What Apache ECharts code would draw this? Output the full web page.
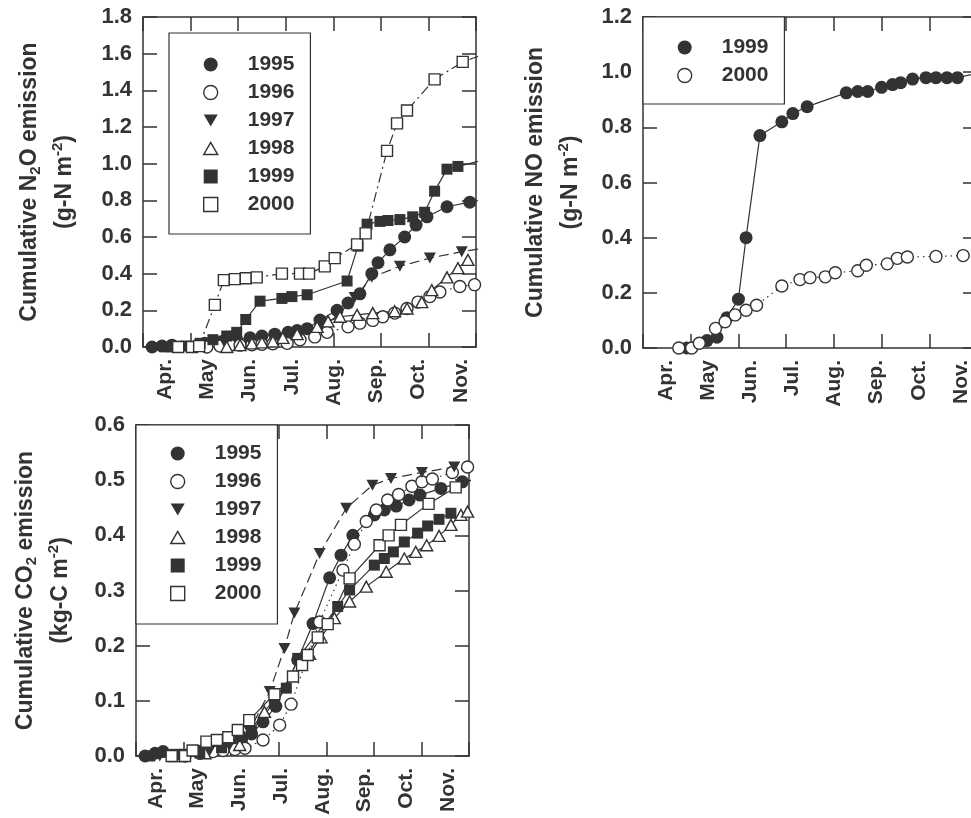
<!DOCTYPE html>
<html><head><meta charset="utf-8">
<script src="https://cdn.jsdelivr.net/npm/echarts@6/dist/echarts.min.js"></script>
<style>html,body{margin:0;padding:0;background:#fff}#c{width:971px;height:818px}</style>
</head><body><div id="c"></div>
<script>
// ---- data (x in axis-tick units: 0 = left frame, 7 = right frame) ----
const months = ['Apr.','May','Jun.','Jul.','Aug.','Sep.','Oct.','Nov.'];
const n2oYears = ['1995','1996','1997','1998','1999','2000'];
const noYears = ['1999','2000'];
const co2Years = ['1995','1996','1997','1998','1999','2000'];

const n2o1995 = [[0.19,0.0],[0.40,0.005],[0.61,0.01],[1.30,0.02],[1.66,0.03],[1.97,0.04],[2.25,0.05],[2.50,0.06],[2.77,0.07],[3.05,0.08],[3.24,0.09],[3.45,0.10],[3.72,0.147],[4.08,0.20],[4.31,0.24],[4.56,0.29],[4.81,0.40],[4.94,0.46],[5.19,0.53],[5.50,0.60],[5.74,0.665],[5.97,0.71],[6.39,0.765],[6.87,0.79],[7.3,0.81]];
const n2o1996 = [[1.34,0.0],[1.62,0.005],[1.83,0.01],[2.04,0.01],[2.29,0.012],[2.50,0.015],[2.73,0.018],[3.03,0.02],[3.30,0.04],[3.61,0.055],[3.87,0.08],[4.31,0.11],[4.56,0.13],[4.83,0.145],[5.04,0.165],[5.29,0.185],[5.55,0.21],[5.78,0.245],[6.03,0.275],[6.24,0.30],[6.66,0.33],[6.97,0.34]];
const n2o1997 = [[0.78,0.0],[1.20,0.01],[1.72,0.02],[2.25,0.035],[2.77,0.05],[3.30,0.07],[3.72,0.10],[4.08,0.17],[4.45,0.27],[4.81,0.38],[5.40,0.44],[6.03,0.485],[6.70,0.52],[7.3,0.545]];
const n2o1998 = [[1.76,0.0],[2.04,0.01],[2.29,0.02],[2.50,0.025],[2.73,0.03],[2.94,0.05],[3.24,0.07],[3.66,0.11],[3.89,0.14],[4.14,0.165],[4.50,0.175],[4.83,0.185],[5.29,0.195],[5.55,0.21],[5.86,0.245],[6.07,0.31],[6.39,0.38],[6.62,0.43],[6.83,0.475]];
const n2o1999 = [[0.57,0.0],[0.88,0.005],[1.20,0.02],[1.47,0.04],[1.76,0.06],[1.97,0.08],[2.16,0.15],[2.46,0.25],[2.92,0.265],[3.13,0.275],[3.45,0.285],[4.29,0.36],[4.52,0.55],[4.71,0.67],[4.98,0.685],[5.15,0.69],[5.40,0.695],[5.67,0.71],[5.92,0.735],[6.13,0.85],[6.39,0.97],[6.62,0.985],[7.3,1.03]];
const n2o2000 = [[0.74,0.0],[1.03,0.0],[1.18,0.005],[1.51,0.23],[1.70,0.365],[1.93,0.37],[2.16,0.375],[2.39,0.38],[2.92,0.40],[3.30,0.40],[3.49,0.40],[3.82,0.44],[4.03,0.485],[4.50,0.56],[4.68,0.62],[5.13,1.07],[5.34,1.22],[5.55,1.29],[6.13,1.46],[6.72,1.555],[7.3,1.61]];

const no1999 = [[0.92,0.0],[1.34,0.027],[1.55,0.039],[1.76,0.11],[2.00,0.177],[2.16,0.40],[2.45,0.77],[2.91,0.82],[3.14,0.85],[3.44,0.875],[4.26,0.925],[4.50,0.93],[4.71,0.93],[5.00,0.945],[5.23,0.955],[5.40,0.962],[5.65,0.975],[5.93,0.98],[6.14,0.98],[6.37,0.98],[6.59,0.98],[7.1,1.0]];
const no2000 = [[0.75,0.0],[1.02,0.0],[1.18,0.017],[1.52,0.071],[1.72,0.095],[1.93,0.12],[2.16,0.137],[2.38,0.155],[2.91,0.225],[3.29,0.248],[3.50,0.255],[3.82,0.258],[4.03,0.273],[4.50,0.28],[4.68,0.30],[5.12,0.305],[5.33,0.325],[5.54,0.33],[6.14,0.332],[6.71,0.335],[7.1,0.34]];

const co21995 = [[0.19,0.0],[0.40,0.005],[0.57,0.008],[1.34,0.008],[1.66,0.012],[1.97,0.02],[2.22,0.03],[2.43,0.04],[2.67,0.062],[2.94,0.09],[3.40,0.174],[3.72,0.24],[4.07,0.323],[4.31,0.364],[4.56,0.40],[5.01,0.437],[5.22,0.446],[5.47,0.453],[5.74,0.464],[5.97,0.473],[6.41,0.485],[6.86,0.497],[7.3,0.505]];
const co21996 = [[1.03,0.0],[1.34,0.005],[1.62,0.008],[1.83,0.01],[2.08,0.012],[2.29,0.014],[2.67,0.029],[3.02,0.056],[3.26,0.094],[3.86,0.243],[4.35,0.337],[4.59,0.384],[4.84,0.425],[5.05,0.446],[5.29,0.464],[5.52,0.474],[5.80,0.489],[6.01,0.497],[6.23,0.502],[6.65,0.514],[6.97,0.524]];
const co21997 = [[0.50,0.0],[1.03,0.003],[1.55,0.01],[1.97,0.02],[2.38,0.045],[2.81,0.117],[3.12,0.195],[3.33,0.259],[3.86,0.367],[4.42,0.449],[4.97,0.491],[5.36,0.503],[6.01,0.514],[6.69,0.524],[7.3,0.53]];
const co21998 = [[0.82,0.0],[1.45,0.005],[2.18,0.02],[2.70,0.08],[3.65,0.185],[3.89,0.215],[4.17,0.25],[4.49,0.28],[4.84,0.307],[5.26,0.334],[5.64,0.358],[5.88,0.37],[6.11,0.382],[6.37,0.399],[6.62,0.419],[6.83,0.437],[6.97,0.443]];
const co21999 = [[0.29,0.0],[0.82,0.003],[1.34,0.006],[1.80,0.015],[2.18,0.035],[2.43,0.044],[2.91,0.098],[3.16,0.123],[3.40,0.177],[4.24,0.271],[4.49,0.301],[5.01,0.346],[5.22,0.358],[5.41,0.37],[5.64,0.388],[5.92,0.404],[6.13,0.417],[6.37,0.429],[6.62,0.44]];
const co22000 = [[0.75,0.0],[1.03,0.0],[1.19,0.01],[1.48,0.026],[1.70,0.029],[1.94,0.034],[2.14,0.047],[2.38,0.065],[2.91,0.112],[3.30,0.144],[3.49,0.165],[3.61,0.183],[3.82,0.215],[4.03,0.239],[4.49,0.322],[5.12,0.382],[5.31,0.40],[5.57,0.419],[6.15,0.457],[6.72,0.487],[7.3,0.51]];

// ---- styling ----
const INK = '#333';
const F = '"Liberation Sans", Arial, Helvetica, sans-serif';
const DOWN = 'path://M0,0L10,0L5,8.66Z';
const UP_ICON = 'path://M5,0L10,8.66L0,8.66Z';
const RECT_ICON = 'path://M0,0L10,0L10,10L0,10Z';
const sym = {
  '1995': {symbol:'circle', size:13, fill:INK, open:false, icon:'circle'},
  '1996': {symbol:'circle', size:12, fill:'#fff', open:true, icon:'circle'},
  '1997': {symbol:DOWN, size:[12,11], fill:INK, open:false, icon:DOWN},
  '1998': {symbol:'triangle', size:[12,11], fill:'#fff', open:true, icon:UP_ICON},
  '1999': {symbol:'rect', size:11, fill:INK, open:false, icon:RECT_ICON},
  '2000': {symbol:'rect', size:11, fill:'#fff', open:true, icon:RECT_ICON}
};
const noSym = {
  '1999': {symbol:'circle', size:13, fill:INK, open:false, icon:'circle'},
  '2000': {symbol:'circle', size:12, fill:'#fff', open:true, icon:'circle'}
};
const DASH = [10,5], DOT = [1.5,4], DASHDOT = [10,4,2,4];

function series(name, data, g, st, dash, width) {
  return {
    type:'line', name, data, xAxisIndex:g*2, yAxisIndex:g*2,
    symbol:st.symbol, symbolSize:st.size, showSymbol:true, clip:true,
    itemStyle:{color:st.fill, borderColor:INK, borderWidth:st.open?1.4:0},
    lineStyle:{color:INK, width:width||1.2, type:dash},
    emphasis:{disabled:true}, animation:false
  };
}

const grids = [
  {left:143, top:17, width:333, height:330},
  {left:643, top:17, width:334, height:331},
  {left:136, top:425, width:333, height:331}
];
const labelGrids = [
  {left:144, top:17, width:338, height:330},
  {left:645, top:17, width:337, height:331},
  {left:135, top:425, width:334, height:331}
];
const yMax = [1.8, 1.2, 0.6], yStep = [0.2, 0.2, 0.1];
const rich = {
  a:{fontSize:23, fontWeight:'bold', fontFamily:F, color:INK, lineHeight:35, verticalAlign:'middle'},
  sub:{fontSize:15, fontWeight:'bold', fontFamily:F, color:INK, verticalAlign:'middle', padding:[13,0,0,0]},
  sup:{fontSize:15, fontWeight:'bold', fontFamily:F, color:INK, verticalAlign:'middle', padding:[0,0,13,0]}
};
const names = [
  '{a|Cumulative N}{sub|2}{a|O emission}\n{a|(g-N m}{sup|-2}{a|)}',
  '{a|Cumulative NO emission}\n{a|(g-N m}{sup|-2}{a|)}',
  '{a|Cumulative CO}{sub|2}{a| emission}\n{a|(kg-C m}{sup|-2}{a|)}'
];
const nameGaps = [61, 55, 58];

const line = {show:true, onZero:false, lineStyle:{color:INK, width:1.5}};
const tick = {show:true, inside:true, length:14, lineStyle:{color:INK, width:1.5}};

const xAxis = [], yAxis = [];
grids.forEach((g, i) => {
  ['bottom','top'].forEach(p => xAxis.push({type:'value', gridIndex:i, position:p, min:0, max:7, interval:1,
    axisLine:line, axisTick:tick, axisLabel:{show:false}, splitLine:{show:false}}));
  yAxis.push({type:'value', gridIndex:i, position:'left', min:0, max:yMax[i], interval:yStep[i],
    axisLine:line, axisTick:tick, splitLine:{show:false},
    axisLabel:{show:true, margin:11, fontSize:22, fontWeight:'bold', color:INK, fontFamily:F,
      formatter:v => v.toFixed(1)},
    name:names[i], nameLocation:'middle', nameRotate:90, nameGap:nameGaps[i], nameMoveOverlap:false,
    nameTextStyle:{fontSize:23, fontWeight:'bold', color:INK, fontFamily:F, rich}});
  yAxis.push({type:'value', gridIndex:i, position:'right', min:0, max:yMax[i], interval:yStep[i],
    axisLine:line, axisTick:tick, axisLabel:{show:false}, splitLine:{show:false}});
});
labelGrids.forEach((g, i) => {
  xAxis.push({type:'category', gridIndex:3+i, data:months, boundaryGap:true,
    axisLine:{show:false}, axisTick:{show:false}, splitLine:{show:false},
    axisLabel:{rotate:90, interval:0, margin:12, fontSize:21, fontWeight:'bold', color:INK, fontFamily:F}});
  yAxis.push({type:'value', gridIndex:3+i, show:false});
});

const allGrids = grids.concat(labelGrids).map(g => Object.assign({show:false, outerBoundsMode:'none', containLabel:false}, g));

const s = [];
const n2oData = {'1995':n2o1995,'1996':n2o1996,'1997':n2o1997,'1998':n2o1998,'1999':n2o1999,'2000':n2o2000};
const n2oDash = {'1995':'solid','1996':DOT,'1997':DASH,'1998':'solid','1999':'solid','2000':DASHDOT};
n2oYears.forEach(y => s.push(series(y, n2oData[y], 0, sym[y], n2oDash[y])));
const noData = {'1999':no1999,'2000':no2000};
const noDash = {'1999':'solid','2000':DOT};
noYears.forEach(y => s.push(series(y, noData[y], 1, noSym[y], noDash[y])));
const co2Data = {'1995':co21995,'1996':co21996,'1997':co21997,'1998':co21998,'1999':co21999,'2000':co22000};
const co2Dash = {'1995':'solid','1996':DOT,'1997':DASH,'1998':'solid','1999':'solid','2000':'solid'};
co2Years.forEach(y => s.push(series(y, co2Data[y], 2, sym[y], co2Dash[y])));

function legendItem(y, st) {
  return {name:y, icon:st.icon, itemStyle:{color:st.fill, borderColor:INK, borderWidth:st.open?1.4:0}};
}
const legendText = {fontSize:21, fontWeight:'bold', color:INK, fontFamily:F, lineHeight:20};
function legend(left, top, pad, items) {
  return {show:true, orient:'vertical', left, top, padding:pad, itemWidth:14, itemHeight:14, itemGap:7,
    symbolKeepAspect:true,
    borderColor:INK, borderWidth:1.2, backgroundColor:'#fff', selectedMode:false, align:'left',
    formatter: name => '{g| }{t|' + name + '}',
    textStyle:Object.assign({rich:{g:{width:25, fontSize:10}, t:legendText}}, legendText),
    data:items};
}

const option = {
  animation:false,
  backgroundColor:'#fff',
  textStyle:{fontFamily:F},
  grid: allGrids,
  xAxis, yAxis,
  legend:[
    legend(169, 33, [21,16,19,34], n2oYears.map(y => legendItem(y, sym[y]))),
    legend(643, 17, [20,16,18,34], noYears.map(y => legendItem(y, noSym[y]))),
    legend(136, 425, [18,16,20,34], co2Years.map(y => legendItem(y, sym[y])))
  ],
  series:s
};
const chart = echarts.init(document.getElementById('c'), null, {renderer:'canvas'});
chart.setOption(option);
</script></body></html>
